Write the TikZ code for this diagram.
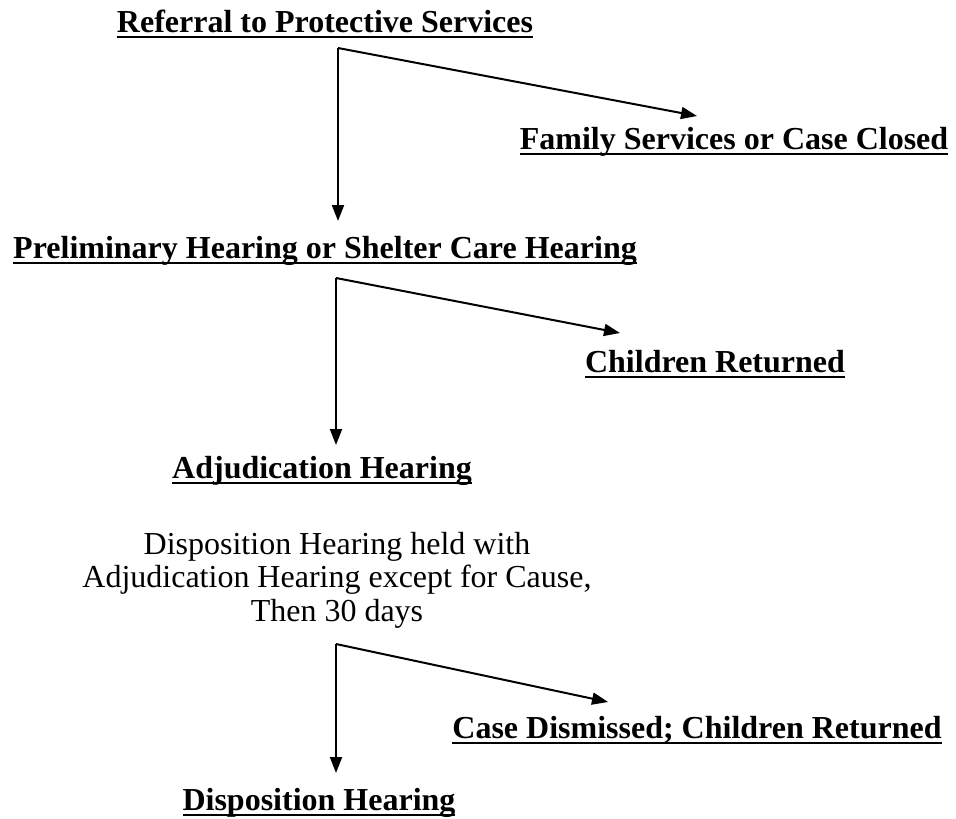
\documentclass[tikz,border=0pt]{standalone}
\usepackage{fontspec}
\setmainfont{Liberation Serif}
\usetikzlibrary{arrows.meta}

\newcommand{\ulhead}[1]{\setbox0=\hbox{\bfseries #1}\rlap{\copy0}\rule[-6pt]{\wd0}{2.2pt}}

\begin{document}
\begin{tikzpicture}[x=1pt, y=-1pt,
    heading/.style={anchor=base, inner sep=0pt, font=\fontsize{32}{34}\selectfont},
    note/.style={anchor=center, inner sep=0pt, align=center, font=\fontsize{32}{33.5}\selectfont},
    flow/.style={line width=2pt, -{Triangle[length=16pt,width=12pt]}}]
    \useasboundingbox (0,0) rectangle (956,819);

    % Referral
    \node[heading] (referral) at (325, 32) {\ulhead{Referral to Protective Services}};
    \node[heading] (family) at (734, 149) {\ulhead{Family Services or Case Closed}};

    % Preliminary hearing
    \node[heading] (prelim) at (325, 258) {\ulhead{Preliminary Hearing or Shelter Care Hearing}};
    \node[heading] (returned) at (715, 372) {\ulhead{Children Returned}};

    % Adjudication
    \node[heading] (adjud) at (322, 478) {\ulhead{Adjudication Hearing}};
    \node[note] (held) at (337, 580) {Disposition Hearing held with\\
      Adjudication Hearing except for Cause,\\
      Then 30 days};

    % Disposition
    \node[heading] (dismissed) at (697, 738) {\ulhead{Case Dismissed; Children Returned}};
    \node[heading] (dispo) at (319, 810) {\ulhead{Disposition Hearing}};

    % Branch points and arrow tips
    \coordinate (b1) at (338, 48);
    \coordinate (b1down) at (338, 221);
    \coordinate (b1side) at (697, 116);
    \coordinate (b2) at (336, 278);
    \coordinate (b2down) at (336, 445);
    \coordinate (b2side) at (620, 333);
    \coordinate (b3) at (336, 644);
    \coordinate (b3down) at (336, 773);
    \coordinate (b3side) at (608, 702);

    % Arrows
    \draw[flow] (b1) -- (b1down);
    \draw[flow] (b1) -- (b1side);
    \draw[flow] (b2) -- (b2down);
    \draw[flow] (b2) -- (b2side);
    \draw[flow] (b3) -- (b3down);
    \draw[flow] (b3) -- (b3side);
\end{tikzpicture}
\end{document}
